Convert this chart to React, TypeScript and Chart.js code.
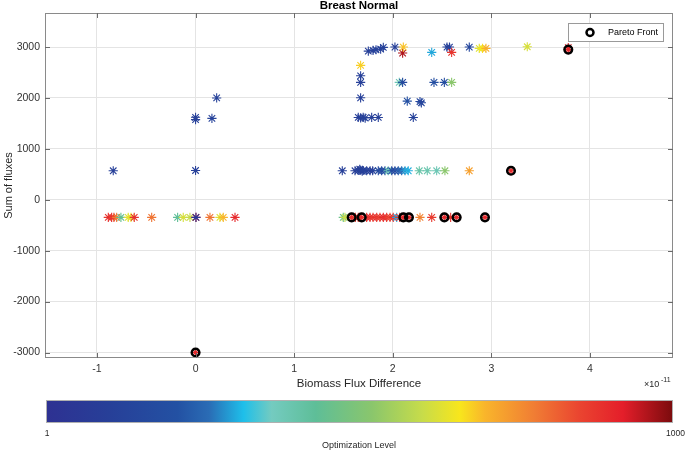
import React, { useEffect, useRef } from "react";
import { Chart, registerables } from "chart.js";

Chart.register(...registerables);

// ---- data (x in units of 1e-11) ----
const xVals: number[] = [
  -0.835, 0.0, 0.0, 0.0, 0.166, 0.214, 1.488,
  -0.885, -0.851, -0.828, -0.8, -0.757, -0.683, -0.655, -0.622, -0.445, -0.182, -0.125, -0.057, 0.004, 0.004, 0.146, 0.247, 0.281, 0.4,
  1.498, 1.515, 1.583, 1.62, 1.65, 1.685, 1.735, 1.769, 1.8, 1.837, 1.87, 1.904, 1.938, 1.972, 2.005, 2.04, 2.07, 2.107, 2.164, 2.276, 2.395, 2.523, 2.587, 2.648, 2.935,
  1.617, 1.65, 1.665, 1.674, 1.69, 1.7, 1.735, 1.77, 1.796, 1.853, 1.887, 1.921, 1.954, 1.989, 2.022, 2.056, 2.09, 2.124, 2.157, 2.269, 2.35, 2.445, 2.529, 2.776, 3.199,
  1.674, 1.674, 1.674, 1.674, 1.65, 1.674, 1.7, 1.72, 1.786, 1.853, 2.208, 2.147, 2.276, 2.29, 2.066, 2.1, 2.418, 2.523, 2.597,
  1.752, 1.8, 1.83, 1.877, 1.904, 2.022, 2.1, 2.107, 2.395, 2.55, 2.575, 2.597, 2.776, 2.877, 2.91, 2.945, 3.364, 3.78, 3.78,
  0.0,
];
const yVals: number[] = [
  570, 575, 1620, 1575, 1600, 2000, 570,
  -345, -345, -345, -345, -345, -345, -345, -345, -345, -345, -345, -345, -345, -345, -345, -345, -345, -345,
  -345, -345, -345, -345, -345, -345, -345, -345, -345, -345, -345, -345, -345, -345, -345, -345, -345, -345, -345, -345, -345, -345, -345, -345, -345,
  570, 575, 600, 580, 560, 575, 570, 570, 570, 570, 570, 570, 570, 570, 570, 570, 570, 570, 570, 570, 570, 570, 570, 570, 570,
  2640, 2436, 2306, 2003, 1617, 1610, 1617, 1605, 1617, 1617, 1617, 1938, 1930, 1905, 2306, 2306, 2306, 2306, 2306,
  2921, 2934, 2947, 2960, 2993, 3000, 2882, 3000, 2895, 3000, 3000, 2895, 3000, 2974, 2974, 2974, 3006, 2950, 2990,
  -3000,
];
const levels: number[] = [
  110, 110, 110, 110, 120, 120, 110,
  880, 900, 860, 780, 440, 630, 640, 890, 790, 430, 620, 600, 900, 60, 790, 630, 700, 900,
  460, 600, 900, 880, 870, 900, 880, 900, 870, 890, 860, 900, 880, 850, 890, 300, 880, 900, 900, 770, 870, 900, 880, 900, 900,
  100, 110, 100, 120, 100, 110, 120, 100, 110, 180, 160, 200, 380, 210, 150, 230, 250, 290, 305, 400, 390, 380, 520, 730, 900,
  680, 110, 110, 110, 100, 110, 100, 120, 110, 110, 120, 200, 150, 140, 380, 160, 190, 180, 520,
  110, 110, 120, 110, 120, 110, 960, 690, 300, 120, 110, 880, 150, 630, 660, 710, 620, 900, 900,
  900,
];
const paretoX: number[] = [0.0, 1.583, 1.685, 2.107, 2.164, 2.523, 2.648, 2.935, 3.199, 3.78];
const paretoY: number[] = [-3000, -345, -345, -345, -345, -345, -345, -345, 570, 2950];

const xTicks: number[] = [-1, 0, 1, 2, 3, 4];
const yTicks: number[] = [-3000, -2000, -1000, 0, 1000, 2000, 3000];
const levelMin = 1;
const levelMax = 1000;
const colorbarLabels: string[] = ["1", "1000"];

const titleText = "Breast Normal";
const xTitle = "Biomass Flux Difference";
const yTitle = "Sum of fluxes";
const cbTitle = "Optimization Level";
const legendLabel = "Pareto Front";

// colormap stops (fraction, color)
const cmapStops: [number, string][] = [
  [0.0, "#2e3192"],
  [0.1, "#273f98"],
  [0.21, "#2351a3"],
  [0.26, "#2a6cb5"],
  [0.315, "#1ebfea"],
  [0.36, "#74cbc0"],
  [0.43, "#5ebe98"],
  [0.52, "#8ac66c"],
  [0.6, "#c7dc4a"],
  [0.66, "#f8e61c"],
  [0.7, "#f9b52b"],
  [0.78, "#f07c34"],
  [0.85, "#ea4530"],
  [0.92, "#e41e2a"],
  [1.0, "#7a0b0d"],
];

const FONT = "'Liberation Sans', Arial, Helvetica, sans-serif";

function hexToRgb(h: string): number[] {
  const n = parseInt(h.slice(1), 16);
  return [(n >> 16) & 255, (n >> 8) & 255, n & 255];
}

function levelColor(level: number): string {
  const t = Math.min(1, Math.max(0, (level - levelMin) / (levelMax - levelMin)));
  for (let i = 0; i < cmapStops.length - 1; i++) {
    const [t0, c0] = cmapStops[i];
    const [t1, c1] = cmapStops[i + 1];
    if (t >= t0 && t <= t1) {
      const f = (t - t0) / (t1 - t0 || 1);
      const a = hexToRgb(c0);
      const b = hexToRgb(c1);
      const r = a.map((v, k) => Math.round(v + (b[k] - v) * f));
      return `rgb(${r[0]},${r[1]},${r[2]})`;
    }
  }
  return cmapStops[cmapStops.length - 1][1];
}

const decorPlugin = {
  id: "decor",
  afterDraw(chart: any) {
    const { ctx, chartArea: a, scales } = chart;
    const xs = scales.x;
    const ys = scales.y;
    ctx.save();
    // axes box
    ctx.strokeStyle = "#8a8a8a";
    ctx.lineWidth = 1;
    ctx.strokeRect(a.left + 0.5, a.top + 0.5, a.right - a.left - 1, a.bottom - a.top - 1);
    // inward ticks
    ctx.strokeStyle = "#6a6a6a";
    ctx.beginPath();
    for (const v of xTicks) {
      const px = Math.round(xs.getPixelForValue(v)) + 0.5;
      ctx.moveTo(px, a.bottom);
      ctx.lineTo(px, a.bottom - 5);
      ctx.moveTo(px, a.top);
      ctx.lineTo(px, a.top + 5);
    }
    for (const v of yTicks) {
      const py = Math.round(ys.getPixelForValue(v)) + 0.5;
      ctx.moveTo(a.left, py);
      ctx.lineTo(a.left + 5, py);
      ctx.moveTo(a.right, py);
      ctx.lineTo(a.right - 5, py);
    }
    ctx.stroke();

    const cx = (a.left + a.right) / 2;
    // title
    ctx.fillStyle = "#000";
    ctx.textAlign = "center";
    ctx.textBaseline = "middle";
    ctx.font = `bold 11.5px ${FONT}`;
    ctx.fillText(titleText, cx, 6);
    // x title
    ctx.fillStyle = "#262626";
    ctx.font = `11.5px ${FONT}`;
    ctx.fillText(xTitle, cx, 384);
    // exponent
    ctx.textAlign = "left";
    ctx.font = `9px ${FONT}`;
    ctx.fillText("\u00d710", 644, 385);
    ctx.font = `7px ${FONT}`;
    ctx.fillText("-11", 661, 380);
    // y title
    ctx.save();
    ctx.translate(9, (a.top + a.bottom) / 2);
    ctx.rotate(-Math.PI / 2);
    ctx.textAlign = "center";
    ctx.font = `11px ${FONT}`;
    ctx.fillText(yTitle, 0, 0);
    ctx.restore();

    // legend
    const lx0 = 568, ly0 = 23, lw = 95, lh = 18;
    ctx.fillStyle = "#fff";
    ctx.fillRect(lx0, ly0, lw, lh);
    ctx.strokeStyle = "#9a9a9a";
    ctx.lineWidth = 1;
    ctx.strokeRect(lx0 + 0.5, ly0 + 0.5, lw, lh);
    ctx.strokeStyle = "#000";
    ctx.lineWidth = 2.5;
    ctx.beginPath();
    ctx.arc(590, ly0 + lh / 2 + 0.5, 3.5, 0, Math.PI * 2);
    ctx.stroke();
    ctx.fillStyle = "#000";
    ctx.font = `9px ${FONT}`;
    ctx.textAlign = "left";
    ctx.fillText(legendLabel, 608, ly0 + lh / 2 + 0.5);

    // colorbar
    const bx0 = a.left + 1, bx1 = a.right, by0 = 400, by1 = 423;
    const g = ctx.createLinearGradient(bx0, 0, bx1, 0);
    for (const [t, c] of cmapStops) g.addColorStop(t, c);
    ctx.fillStyle = g;
    ctx.fillRect(bx0, by0, bx1 - bx0, by1 - by0);
    ctx.strokeStyle = "#b0b0b0";
    ctx.lineWidth = 1;
    ctx.strokeRect(bx0 + 0.5, by0 + 0.5, bx1 - bx0 - 1, by1 - by0 - 1);
    ctx.fillStyle = "#262626";
    ctx.font = `8.5px ${FONT}`;
    ctx.textAlign = "center";
    ctx.fillText(colorbarLabels[0], bx0 + 1, 434);
    ctx.textAlign = "right";
    ctx.fillText(colorbarLabels[1], 685, 434);
    ctx.textAlign = "center";
    ctx.font = `9px ${FONT}`;
    ctx.fillText(cbTitle, cx, 446);
    ctx.restore();
  },
};

export default function App() {
  const ref = useRef<HTMLCanvasElement | null>(null);
  useEffect(() => {
    if (!ref.current) return;
    const pts = xVals.map((x, i) => ({ x, y: yVals[i] }));
    const cols = levels.map((l) => levelColor(l));
    const pareto = paretoX.map((x, i) => ({ x, y: paretoY[i] }));
    const chart = new Chart(ref.current, {
      type: "scatter",
      data: {
        datasets: [
          {
            label: legendLabel,
            data: pareto,
            pointStyle: "circle",
            pointRadius: 3.8,
            pointBorderWidth: 2.5,
            pointBorderColor: "#000",
            pointBackgroundColor: "rgba(0,0,0,0)",
            order: 0,
          },
          {
            label: "levels",
            data: pts,
            pointStyle: "star",
            pointRadius: 4.6,
            pointBorderWidth: 1.1,
            pointBorderColor: cols,
            pointBackgroundColor: cols,
            order: 1,
          },
        ],
      },
      options: {
        animation: false,
        responsive: false,
        devicePixelRatio: 1,
        layout: { padding: { left: 0, right: 12, top: 13, bottom: 0 } },
        plugins: { legend: { display: false }, tooltip: { enabled: false }, title: { display: false } },
        scales: {
          x: {
            type: "linear",
            min: -1.527,
            max: 4.842,
            afterFit: (s: any) => {
              s.height = 93;
            },
            afterBuildTicks: (s: any) => {
              s.ticks = xTicks.map((v) => ({ value: v }));
            },
            ticks: {
              padding: 5,
              color: "#333",
              font: { family: FONT, size: 10.5 },
              callback: (v: any) => String(v),
              maxRotation: 0,
              autoSkip: false,
            },
            grid: { color: "#e4e4e4", drawTicks: false },
            border: { display: false },
          },
          y: {
            type: "linear",
            min: -3108,
            max: 3669,
            afterFit: (s: any) => {
              s.width = 45;
            },
            afterBuildTicks: (s: any) => {
              s.ticks = yTicks.map((v) => ({ value: v }));
            },
            ticks: {
              padding: 5,
              color: "#333",
              font: { family: FONT, size: 10.5 },
              callback: (v: any) => String(v),
              autoSkip: false,
            },
            grid: { color: "#e4e4e4", drawTicks: false },
            border: { display: false },
          },
        },
      },
      plugins: [decorPlugin],
    });
    return () => chart.destroy();
  }, []);
  return (
    <div style={{ position: "absolute", left: 0, top: 0, width: 685, height: 451, background: "#fff" }}>
      <canvas ref={ref} width={685} height={451} style={{ display: "block", width: 685, height: 451 }} />
    </div>
  );
}
